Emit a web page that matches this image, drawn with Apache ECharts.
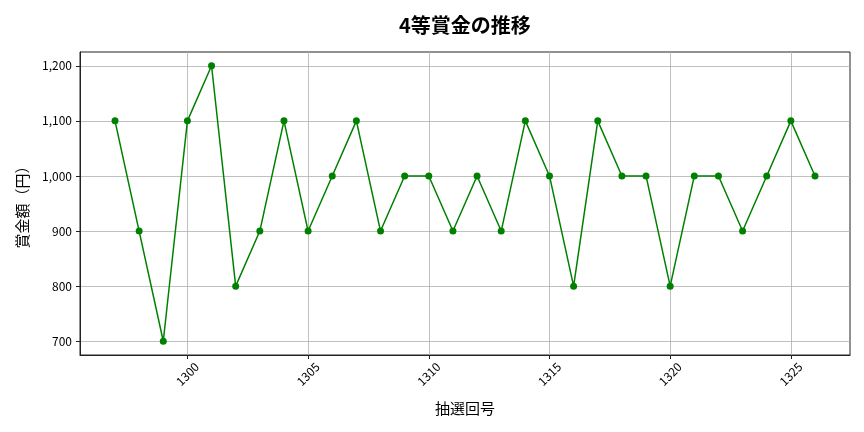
<!DOCTYPE html>
<html><head><meta charset="utf-8">
<script src="https://cdn.jsdelivr.net/npm/echarts@6/dist/echarts.min.js"></script>
<style>html,body{margin:0;padding:0;background:#fff}#c{width:864px;height:432px}</style>
</head><body><div id="c"></div>
<script>
const draws = [1297,1298,1299,1300,1301,1302,1303,1304,1305,1306,1307,1308,1309,1310,1311,1312,1313,1314,1315,1316,1317,1318,1319,1320,1321,1322,1323,1324,1325,1326];
const prizes = [1100,900,700,1100,1200,800,900,1100,900,1000,1100,900,1000,1000,900,1000,900,1100,1000,800,1100,1000,1000,800,1000,1000,900,1000,1100,1000];
const xTicks = [1300,1305,1310,1315,1320,1325];
const yTicks = [700,800,900,1000,1100,1200];
const font = '"Noto Sans CJK JP", "DejaVu Sans", sans-serif';
const chart = echarts.init(document.getElementById('c'), null, {renderer:'canvas'});
chart.setOption({
  animation:false,
  title:{text:'4等賞金の推移', left:394, top:10, textStyle:{fontFamily:font, fontSize:20, fontWeight:'bold', color:'#000'}},
  grid:{left:80, right:14, top:52, bottom:77, containLabel:false, show:true, borderColor:'#222', borderWidth:1},
  xAxis:{type:'value', min:1295.55, max:1327.45, name:'抽選回号', nameLocation:'middle', nameGap:46,
    nameTextStyle:{fontFamily:font, fontSize:15, color:'#000'},
    axisLine:{show:true, lineStyle:{color:'#222'}},
    axisTick:{show:true, length:4, customValues:xTicks, lineStyle:{color:'#222'}},
    axisLabel:{customValues:xTicks, rotate:45, align:'center', verticalAlign:'middle', fontFamily:font, fontSize:12, color:'#000', margin:19,
      formatter:v=>String(v)},
    splitLine:{show:true, lineStyle:{color:'#b0b0b0', width:0.8}}},
  yAxis:{type:'value', min:675, max:1225, name:'賞金額（円）', nameLocation:'middle', nameGap:50,
    nameTextStyle:{fontFamily:font, fontSize:15, color:'#000'},
    axisLine:{show:true, lineStyle:{color:'#222'}},
    axisTick:{show:true, length:4, customValues:yTicks, lineStyle:{color:'#222'}},
    axisLabel:{customValues:yTicks, fontFamily:font, fontSize:12, color:'#000', margin:8,
      formatter:v=>v.toLocaleString('en-US')},
    splitLine:{show:true, lineStyle:{color:'#b0b0b0', width:0.8}}},
  series:[{type:'line', data:draws.map((d,i)=>[d,prizes[i]]), symbol:'circle', symbolSize:7,
    lineStyle:{color:'#008000', width:1.5}, itemStyle:{color:'#008000'}}]
});
</script></body></html>
